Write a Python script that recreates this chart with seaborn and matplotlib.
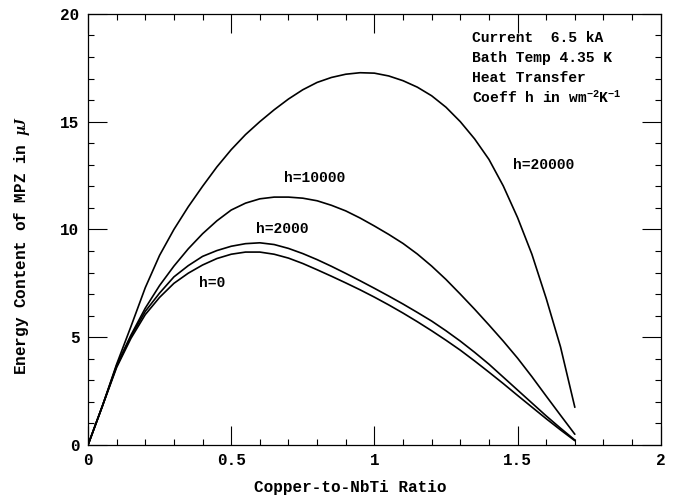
import matplotlib
matplotlib.use("Agg")
import matplotlib.pyplot as plt
from matplotlib.ticker import MultipleLocator, FixedLocator
import seaborn as sns
import pandas as pd

# ---- data ----
x_common = [0, 0.05, 0.1, 0.15, 0.2, 0.25, 0.3, 0.35, 0.4, 0.45, 0.5, 0.55, 0.6, 0.65,
            0.7, 0.75, 0.8, 0.85, 0.9, 0.95, 1.0, 1.05, 1.1, 1.15, 1.2, 1.25, 1.3,
            1.35, 1.4, 1.45, 1.5, 1.55, 1.6, 1.65, 1.7]

y_h0 = [0, 1.8, 3.6, 4.95, 6.05, 6.85, 7.5, 7.97, 8.35, 8.65, 8.85, 8.95, 8.95, 8.85,
        8.67, 8.42, 8.13, 7.83, 7.52, 7.2, 6.86, 6.5, 6.12, 5.72, 5.3, 4.86, 4.4,
        3.9, 3.38, 2.85, 2.3, 1.76, 1.22, 0.7, 0.2]

y_h2000 = [0, 1.8, 3.65, 5.05, 6.2, 7.05, 7.8, 8.32, 8.75, 9.02, 9.22, 9.34, 9.38, 9.3,
           9.12, 8.88, 8.6, 8.29, 7.96, 7.62, 7.27, 6.91, 6.54, 6.15, 5.75, 5.3, 4.82,
           4.3, 3.75, 3.15, 2.55, 1.95, 1.35, 0.78, 0.23]

y_h10000 = [0, 1.8, 3.7, 5.1, 6.35, 7.4, 8.3, 9.1, 9.8, 10.4, 10.9, 11.22, 11.42, 11.5,
            11.5, 11.45, 11.33, 11.12, 10.86, 10.53, 10.16, 9.77, 9.35, 8.86, 8.3, 7.68, 7.0,
            6.3, 5.57, 4.82, 4.03, 3.17, 2.27, 1.38, 0.5]

y_h20000 = [0, 1.8, 3.75, 5.5, 7.3, 8.8, 10.0, 11.05, 12.0, 12.9, 13.7, 14.4, 15.0, 15.55,
            16.05, 16.48, 16.82, 17.05, 17.2, 17.27, 17.25, 17.12, 16.9, 16.6, 16.2, 15.67, 15.0,
            14.2, 13.25, 12.02, 10.55, 8.85, 6.8, 4.55, 1.75]

series_names = ["h=0", "h=2000", "h=10000", "h=20000"]
label_pos_x = [0.435, 0.68, 0.79, 1.59]
label_pos_y = [7.5, 10.0, 12.4, 13.0]

info_lines = ["Current  6.5 kA", "Bath Temp 4.35 K", "Heat Transfer",
              "Coeff h in wm$^{\\mathbf{-2}}$K$^{\\mathbf{-1}}$"]

xlabel = "Copper-to-NbTi Ratio"
ylabel = "Energy Content of MPZ in $\\mu J$"
xticks = [0, 0.5, 1, 1.5, 2]
xticklabels = ["0", "0.5", "1", "1.5", "2"]
yticks = [0, 5, 10, 15, 20]
yticklabels = ["0", "5", "10", "15", "20"]

frames = []
for name, ys in zip(series_names, [y_h0, y_h2000, y_h10000, y_h20000]):
    frames.append(pd.DataFrame({"ratio": x_common, "energy": ys, "h": name}))
df = pd.concat(frames, ignore_index=True)

sns.set_theme(style="ticks")
plt.rcParams["font.family"] = ["Liberation Mono", "DejaVu Sans"]
plt.rcParams["font.weight"] = "bold"
plt.rcParams["mathtext.fontset"] = "custom"
plt.rcParams["mathtext.rm"] = "Liberation Mono:bold"
plt.rcParams["mathtext.it"] = "Liberation Serif:italic:bold"
plt.rcParams["mathtext.bf"] = "Liberation Mono:bold"

fig = plt.figure(figsize=(6.77, 4.97), dpi=100)
ax = fig.add_axes([0.130, 0.1046, 0.846, 0.8675])

sns.lineplot(data=df, x="ratio", y="energy", hue="h", palette=["black"] * 4,
             linewidth=1.2, legend=False, ax=ax, estimator=None, sort=False)

ax.set_xlim(0, 2)
ax.set_ylim(0, 20)
ax.xaxis.set_major_locator(FixedLocator(xticks))
ax.set_xticklabels(xticklabels)
ax.yaxis.set_major_locator(FixedLocator(yticks))
ax.set_yticklabels(yticklabels)
ax.xaxis.set_minor_locator(MultipleLocator(0.1))
ax.yaxis.set_minor_locator(MultipleLocator(1))
ax.tick_params(which="both", direction="in", top=True, right=True, color="black",
               labelsize=11.5, labelcolor="black")
ax.tick_params(which="major", length=13.5, width=0.8, pad=6)
ax.tick_params(which="minor", length=4.5, width=0.8)
for s in ax.spines.values():
    s.set_linewidth(0.9)
    s.set_color("black")

ax.set_xlabel(xlabel, fontsize=11.5, fontweight="bold", color="black")
ax.set_ylabel(ylabel, fontsize=11.5, fontweight="bold", color="black")
ax.xaxis.set_label_coords(0.457, -0.081)
ax.yaxis.set_label_coords(-0.098, 0.464)

for name, lx, ly in zip(series_names, label_pos_x, label_pos_y):
    ax.text(lx, ly, name, fontsize=10.5, fontweight="bold", ha="center", va="center", color="black")

for i, line in enumerate(info_lines):
    ax.text(0.67, 0.945 - i * 0.047, line, transform=ax.transAxes, fontsize=10.5,
            fontweight="bold", ha="left", va="center", color="black")

fig.savefig("out.png", dpi=100)
